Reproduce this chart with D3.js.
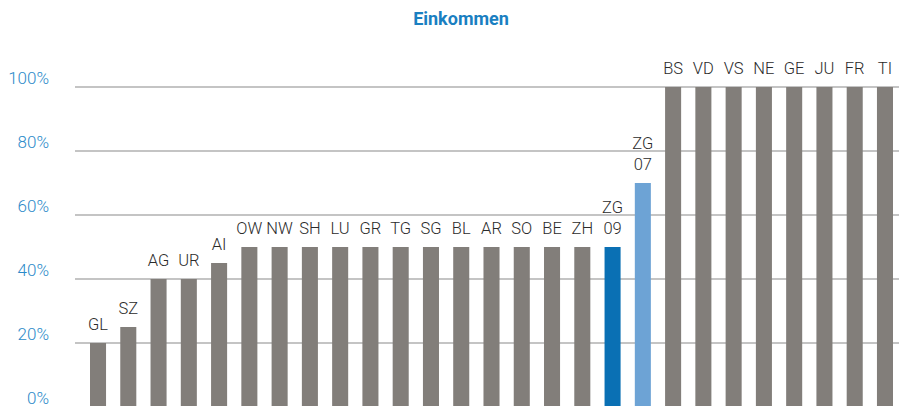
<!DOCTYPE html>
<html><head><meta charset="utf-8">
<script src="https://cdn.jsdelivr.net/npm/d3@7"></script>
<style>body{margin:0;background:#fff}svg{display:block}</style>
</head><body>
<svg id="c" width="899" height="406"></svg>
<script>
const categories = ["GL","SZ","AG","UR","AI","OW","NW","SH","LU","GR","TG","SG","BL","AR","SO","BE","ZH","ZG 09","ZG 07","BS","VD","VS","NE","GE","JU","FR","TI"];
const values = [20,25,40,40,45,50,50,50,50,50,50,50,50,50,50,50,50,50,70,100,100,100,100,100,100,100,100];
const highlight = {"ZG 09":"#0a70b4","ZG 07":"#6da3d5"};
const yTicks = [0,20,40,60,80,100];
const title = "Einkommen";

const svg = d3.select("#c");
const x = d3.scaleBand().domain(categories).range([90,893]).paddingInner(0.47).paddingOuter(0);
const y = d3.scaleLinear().domain([0,100]).range([407,87]);
const font = "Roboto, 'Liberation Sans', sans-serif";

svg.append("text").attr("x",461).attr("y",25).attr("text-anchor","middle")
  .attr("font-family",font).attr("font-weight",700).attr("font-size",18).attr("fill","#1a7fc1").text(title);

const g = svg.append("g");
g.selectAll("line.grid").data(yTicks).join("line").attr("class","grid")
  .attr("x1",75).attr("x2",899).attr("y1",d=>y(d)).attr("y2",d=>y(d))
  .attr("stroke","#c4c4c4").attr("stroke-width",2);
g.selectAll("text.yt").data(yTicks).join("text").attr("class","yt")
  .attr("x",49).attr("y",d=>y(d)-3.5).attr("text-anchor","end")
  .attr("font-family",font).attr("font-weight",300).attr("font-size",17).attr("fill","#2b8ac9")
  .text(d=>d+"%");

g.selectAll("rect.bar").data(categories).join("rect").attr("class","bar")
  .attr("x",d=>x(d)).attr("width",x.bandwidth())
  .attr("y",(d,i)=>y(values[i])).attr("height",(d,i)=>y(0)-y(values[i]))
  .attr("fill",d=>highlight[d]||"#827e7a");

const lab = g.selectAll("text.lab").data(categories).join("text").attr("class","lab")
  .attr("text-anchor","middle").attr("font-family",font).attr("font-weight",300)
  .attr("font-size",16.5).attr("fill","#2b2b2b");
lab.each(function(d,i){
  const parts = d.split(" ");
  const cx = x(d)+x.bandwidth()/2;
  const base = y(values[i]) - 13;
  const t = d3.select(this);
  parts.forEach((p,k)=>{
    t.append("tspan").attr("x",cx).attr("y",base-(parts.length-1-k)*21).text(p);
  });
});
</script>
</body></html>
